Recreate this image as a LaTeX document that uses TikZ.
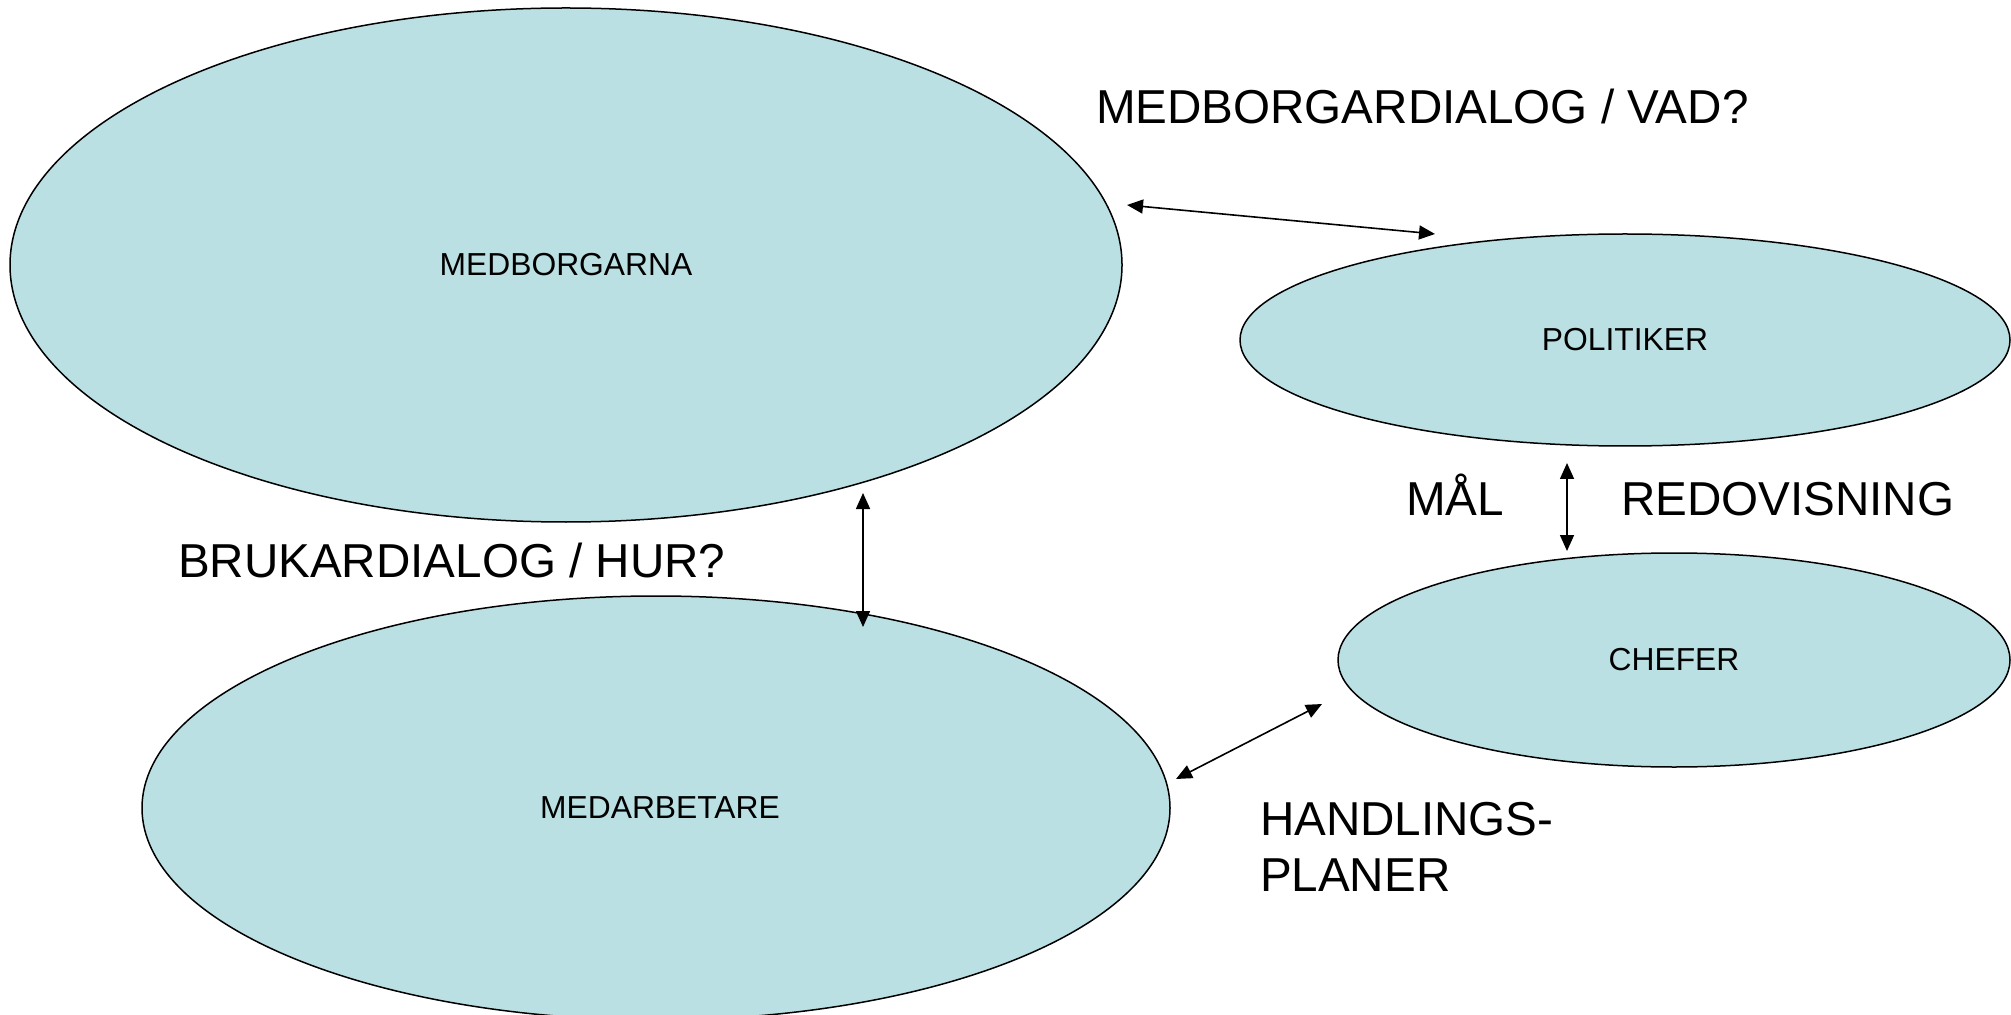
\documentclass[tikz,border=0pt]{standalone}
\usepackage{fontspec}
\setmainfont{Liberation Sans}
\usetikzlibrary{shapes.geometric,arrows.meta}
\definecolor{bubble}{RGB}{187,224,227}
\tikzset{
  bubble/.style={ellipse,draw=black,fill=bubble,line width=0.75pt,inner sep=0pt,outer sep=0pt,
    font=\fontsize{15.9}{19}\selectfont},
  biglabel/.style={anchor=base west,inner sep=0pt,outer sep=0pt,font=\fontsize{23.8}{28}\selectfont},
  biarrow/.style={line width=0.8pt,{Triangle[length=8pt,width=7pt]}-{Triangle[length=8pt,width=7pt]}}
}
\begin{document}
\begin{tikzpicture}[x=0.5pt,y=-0.5pt]
\useasboundingbox (0,0) rectangle (2011,1015);
\node[bubble,minimum width=556pt,minimum height=257pt] (medb) at (566,265) {MEDBORGARNA};
\node[bubble,minimum width=385pt,minimum height=106pt] (pol) at (1625,340) {POLITIKER};
\node[bubble,minimum width=336pt,minimum height=107pt] (chef) at (1674,660) {CHEFER};
\node[bubble,minimum width=514pt,minimum height=212pt] (meda) at (656,808) {};
\node[font=\fontsize{15.9}{19}\selectfont,inner sep=0pt] (medatext) at (660,808) {MEDARBETARE};

\node[biglabel] (lvad) at (1096,124) {MEDBORGARDIALOG / VAD?};
\node[biglabel] (lhur) at (178,577) {BRUKARDIALOG / HUR?};
\node[biglabel] (lmal) at (1406,516) {MÅL};
\node[biglabel] (lred) at (1621,516) {REDOVISNING};
\node[biglabel] (lhand1) at (1260,835) {HANDLINGS-};
\node[biglabel] (lhand2) at (1260,891) {PLANER};

\coordinate (a1s) at (1127,205);
\coordinate (a1e) at (1435,234);
\coordinate (a2s) at (863,493);
\coordinate (a2e) at (863,627);
\coordinate (a3s) at (1567,463);
\coordinate (a3e) at (1567,551);
\coordinate (a4s) at (1176,779);
\coordinate (a4e) at (1322,704);

\draw[biarrow] (a1s) -- (a1e);
\draw[biarrow] (a2s) -- (a2e);
\draw[biarrow] (a3s) -- (a3e);
\draw[biarrow] (a4s) -- (a4e);
\end{tikzpicture}
\end{document}
